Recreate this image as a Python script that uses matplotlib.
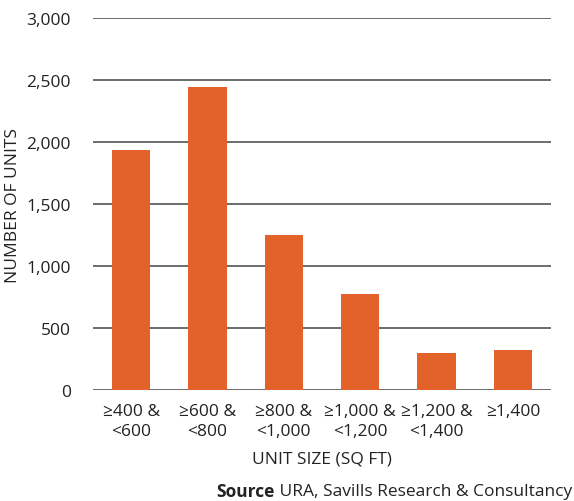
import matplotlib
matplotlib.use('Agg')
import matplotlib.pyplot as plt

plt.rcParams['font.family'] = ['Open Sans', 'DejaVu Sans']

# Data
categories = ['≥400 &\n<600', '≥600 &\n<800', '≥800 &\n<1,000',
              '≥1,000 &\n<1,200', '≥1,200 &\n<1,400', '≥1,400']
units = [1935, 2445, 1250, 778, 298, 323]
yticks = [0, 500, 1000, 1500, 2000, 2500, 3000]

bar_color = '#E2622A'
text_color = '#222222'

fig = plt.figure(figsize=(5.74, 5.02), dpi=100)
ax = fig.add_axes([0.162, 0.221, 0.798, 0.741])

x = range(len(categories))
ax.bar(x, units, width=0.5, color=bar_color, zorder=3)

ax.set_ylim(0, 3000)
ax.set_xlim(-0.5, len(categories) - 0.5)
ax.set_yticks(yticks)
ax.set_yticklabels([f'{v:,}' for v in yticks])
ax.set_xticks(list(x))
ax.set_xticklabels(categories, linespacing=1.4)

ax.yaxis.grid(True, color='#444444', linewidth=1.1, zorder=0)
ax.xaxis.grid(False)
for s in ax.spines.values():
    s.set_visible(False)
ax.tick_params(axis='both', length=0, labelsize=12.5, colors=text_color)
ax.tick_params(axis='y', pad=16)
ax.tick_params(axis='x', pad=9)

ax.set_ylabel('NUMBER OF UNITS', fontsize=12.5, color=text_color, labelpad=4)
ax.set_xlabel('UNIT SIZE (SQ FT)', fontsize=12.5, color=text_color, labelpad=8)

src = fig.text(0.997, 0.02, ' URA, Savills Research & Consultancy', fontsize=12.5,
               color=text_color, ha='right', va='center')
fig.canvas.draw()
bb = src.get_window_extent()
fig.text(bb.x0 / fig.bbox.width, 0.02, 'Source', fontsize=12.5, fontweight='bold',
         color=text_color, ha='right', va='center')

fig.savefig('out.png', dpi=100)
